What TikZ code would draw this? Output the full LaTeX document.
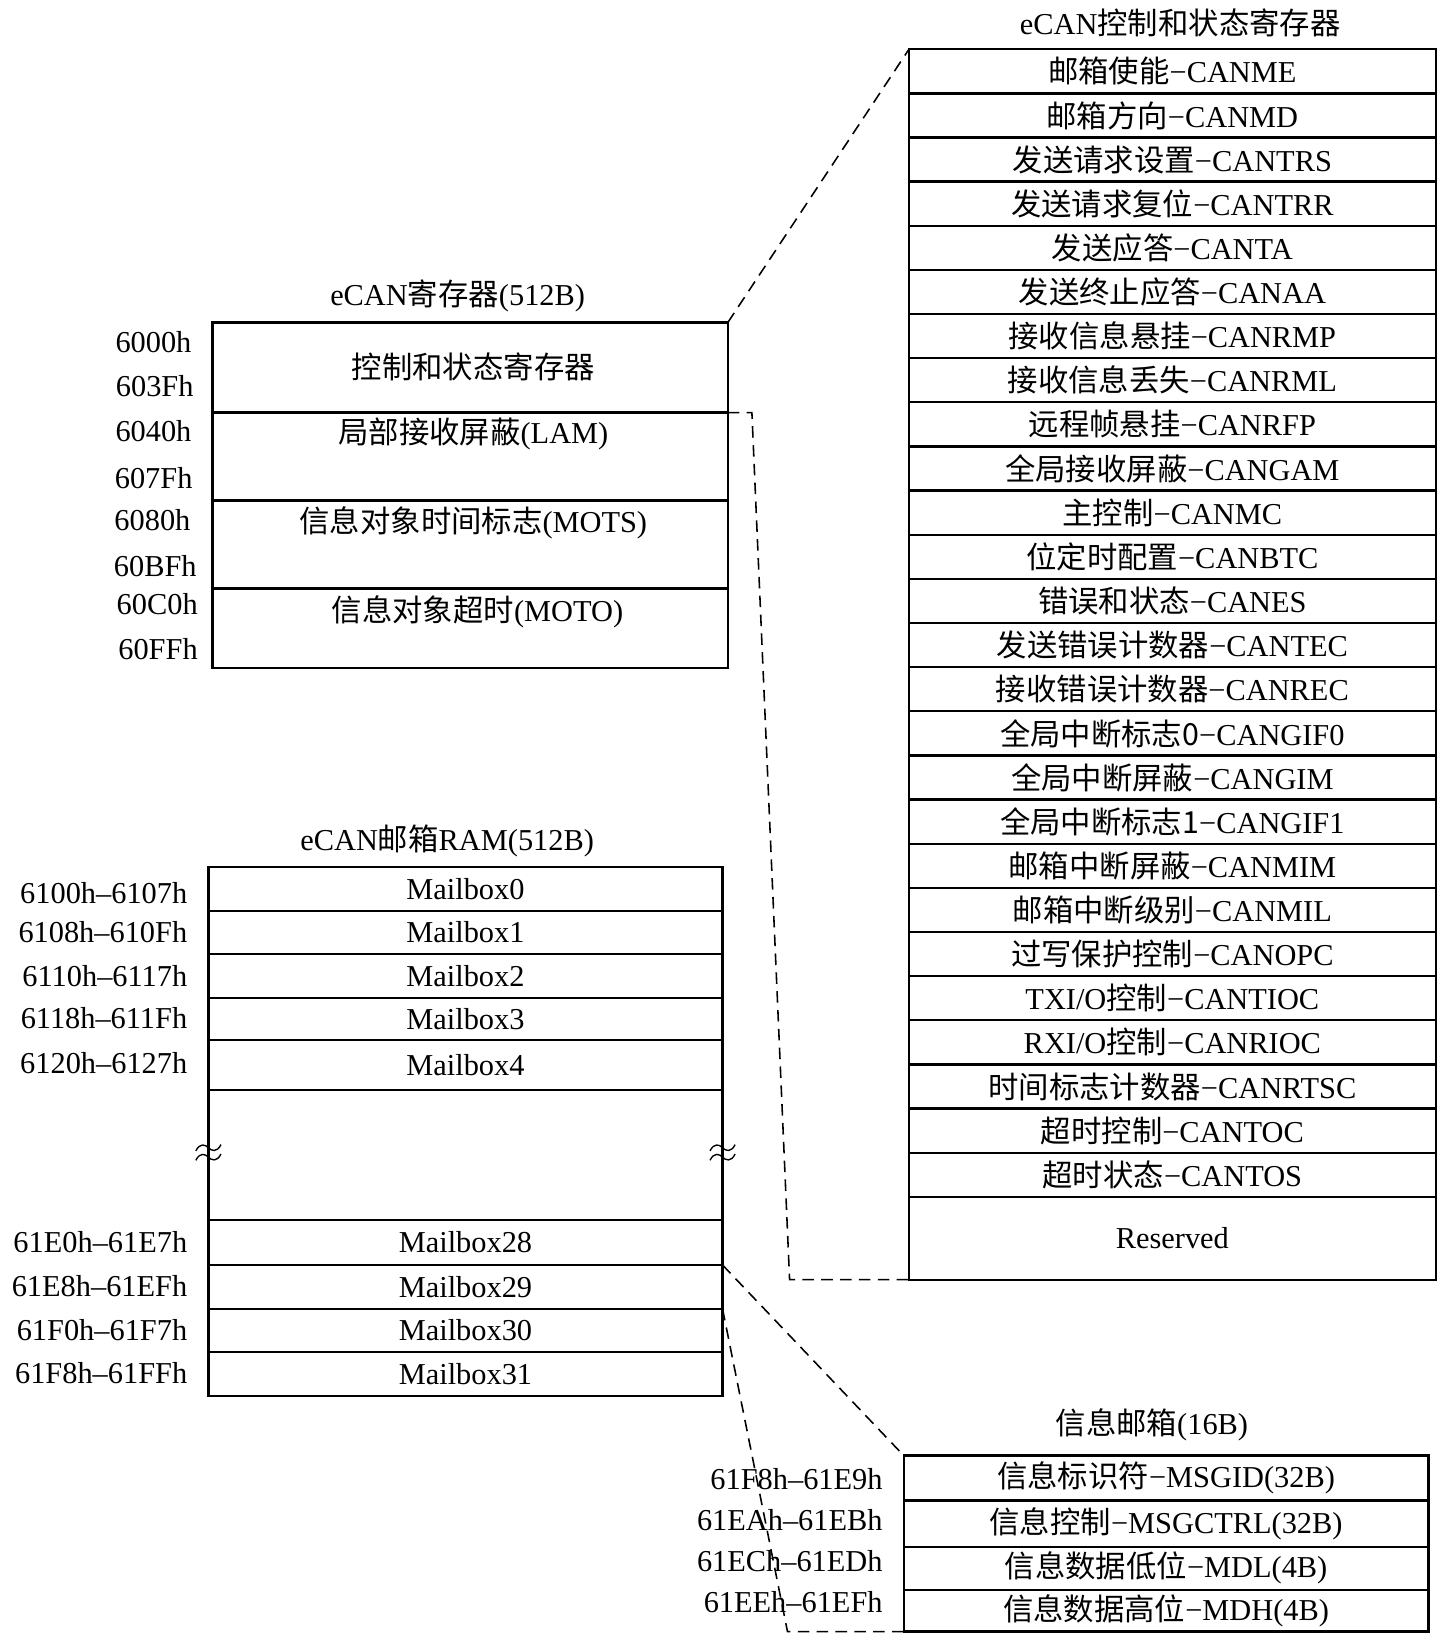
\documentclass[tikz,border=0pt]{standalone}
\usepackage{fontspec}
\setmainfont{Liberation Serif}
\newfontfamily\cjk{Noto Sans CJK SC}
\newcommand\tioname{{\rmfamily TXI/O}控制}
\newcommand\rioname{{\rmfamily RXI/O}控制}
\begin{document}
\begin{tikzpicture}[x={(1pt,0)},y={(0,-1pt)},
  cell/.style={draw,line width=2.2pt,inner sep=0pt,outer sep=0pt,anchor=north west,font=\fontsize{29}{34}\selectfont},
  txt/.style={inner sep=0pt,font=\fontsize{29}{34}\selectfont},
  addr/.style={txt,anchor=east},
  link/.style={line width=1.5pt,dash pattern=on 11pt off 7pt},
  tld/.pic={\draw[line width=1.3pt] (-12,3) .. controls (-8,-5) and (-3,-3) .. (0,0) .. controls (3,3) and (8,5) .. (12,-3);}]
\useasboundingbox (0,0) rectangle (1373,1568);

% ---------- right: control and status registers ----------
\node[txt] (tr) at (1127,22) {eCAN{\cjk 控制和状态寄存器}};
\foreach \c/\l [count=\i] in {邮箱使能/CANME,邮箱方向/CANMD,发送请求设置/CANTRS,发送请求复位/CANTRR,
  发送应答/CANTA,发送终止应答/CANAA,接收信息悬挂/CANRMP,接收信息丢失/CANRML,远程帧悬挂/CANRFP,
  全局接收屏蔽/CANGAM,主控制/CANMC,位定时配置/CANBTC,错误和状态/CANES,发送错误计数器/CANTEC,
  接收错误计数器/CANREC,全局中断标志0/CANGIF0,全局中断屏蔽/CANGIM,全局中断标志1/CANGIF1,
  邮箱中断屏蔽/CANMIM,邮箱中断级别/CANMIL,过写保护控制/CANOPC,\tioname/CANTIOC,\rioname/CANRIOC,
  时间标志计数器/CANRTSC,超时控制/CANTOC,超时状态/CANTOS}{
  \node[cell,minimum width=503pt,minimum height=42.15pt] (r\i) at (868,{47+42.15*(\i-1)}) {{\cjk \c}−\l};
}
\node[cell,minimum width=503pt,minimum height=79pt] (rres) at (868,1143) {Reserved};

% ---------- top left: eCAN registers ----------
\node[txt] (tl) at (437,283) {eCAN{\cjk 寄存器}(512B)};
\node[cell,minimum width=492pt,minimum height=86pt] (c1) at (203,308) {};
\node[cell,minimum width=492pt,minimum height=84pt] (c2) at (203,394) {};
\node[cell,minimum width=492pt,minimum height=84pt] (c3) at (203,478) {};
\node[cell,minimum width=492pt,minimum height=76pt] (c4) at (203,562) {};
\node[txt] (t1) at (452,350) {\cjk 控制和状态寄存器};
\node[txt] (t2) at (452,414) {{\cjk 局部接收屏蔽}(LAM)};
\node[txt] (t3) at (452,499) {{\cjk 信息对象时间标志}(MOTS)};
\node[txt] (t4) at (456,584) {{\cjk 信息对象超时}(MOTO)};
\node[addr] (a1) at (183,327) {6000h};
\node[addr] (a2) at (185,369) {603Fh};
\node[addr] (a3) at (183,412) {6040h};
\node[addr] (a4) at (184,457) {607Fh};
\node[addr] (a5) at (182,497) {6080h};
\node[addr] (a6) at (188,541) {60BFh};
\node[addr] (a7) at (189,577) {60C0h};
\node[addr] (a8) at (189,620) {60FFh};

% ---------- bottom left: mailbox RAM ----------
\node[txt] (tm) at (427,803) {eCAN{\cjk 邮箱}RAM(512B)};
\node[cell,minimum width=491pt,minimum height=42pt] (m0) at (199,828) {Mailbox0};
\node[cell,minimum width=491pt,minimum height=41pt] (m1) at (199,870) {Mailbox1};
\node[cell,minimum width=491pt,minimum height=42pt] (m2) at (199,911) {Mailbox2};
\node[cell,minimum width=491pt,minimum height=40pt] (m3) at (199,953) {Mailbox3};
\node[cell,minimum width=491pt,minimum height=48pt] (m4) at (199,993) {Mailbox4};
\node[cell,minimum width=491pt,minimum height=124pt] (mgap) at (199,1041) {};
\node[cell,minimum width=491pt,minimum height=43pt] (m28) at (199,1165) {Mailbox28};
\node[cell,minimum width=491pt,minimum height=42pt] (m29) at (199,1208) {Mailbox29};
\node[cell,minimum width=491pt,minimum height=41pt] (m30) at (199,1250) {Mailbox30};
\node[cell,minimum width=491pt,minimum height=42pt] (m31) at (199,1291) {Mailbox31};
% break marks
\pic at (199,1096) {tld};
\pic at (199,1105) {tld};
\pic at (690,1096) {tld};
\pic at (690,1105) {tld};
\node[addr] (b0) at (179,853) {6100h–6107h};
\node[addr] (b1) at (179,890) {6108h–610Fh};
\node[addr] (b2) at (179,932) {6110h–6117h};
\node[addr] (b3) at (179,972) {6118h–611Fh};
\node[addr] (b4) at (179,1015) {6120h–6127h};
\node[addr] (b28) at (179,1186) {61E0h–61E7h};
\node[addr] (b29) at (179,1228) {61E8h–61EFh};
\node[addr] (b30) at (179,1270) {61F0h–61F7h};
\node[addr] (b31) at (179,1311) {61F8h–61FFh};

% ---------- bottom right: message mailbox ----------
\node[txt] (tg) at (1100,1361) {{\cjk 信息邮箱}(16B)};
\node[cell,minimum width=501pt,minimum height=43pt] (g1) at (863,1390) {{\cjk 信息标识符}−MSGID(32B)};
\node[cell,minimum width=501pt,minimum height=44pt] (g2) at (863,1433) {{\cjk 信息控制}−MSGCTRL(32B)};
\node[cell,minimum width=501pt,minimum height=41pt] (g3) at (863,1477) {{\cjk 信息数据低位}−MDL(4B)};
\node[cell,minimum width=501pt,minimum height=40pt] (g4) at (863,1518) {{\cjk 信息数据高位}−MDH(4B)};
\node[addr] (d1) at (843,1412) {61F8h–61E9h};
\node[addr] (d2) at (843,1452) {61EAh–61EBh};
\node[addr] (d3) at (843,1491) {61ECh–61EDh};
\node[addr] (d4) at (843,1530) {61EEh–61EFh};

% ---------- dashed connectors ----------
\coordinate (k1) at (718,394);
\coordinate (k2) at (754,1222);
\coordinate (k3) at (752,1558);
\draw[link] (c1.north east) -- (r1.north west);
\draw[link] (c2.north east) -- (k1) -- (k2) -- (rres.south west);
\draw[link] (m29.north east) -- (g1.north west);
\draw[link] (m30.north east) -- (k3) -- (g4.south west);
\end{tikzpicture}
\end{document}
